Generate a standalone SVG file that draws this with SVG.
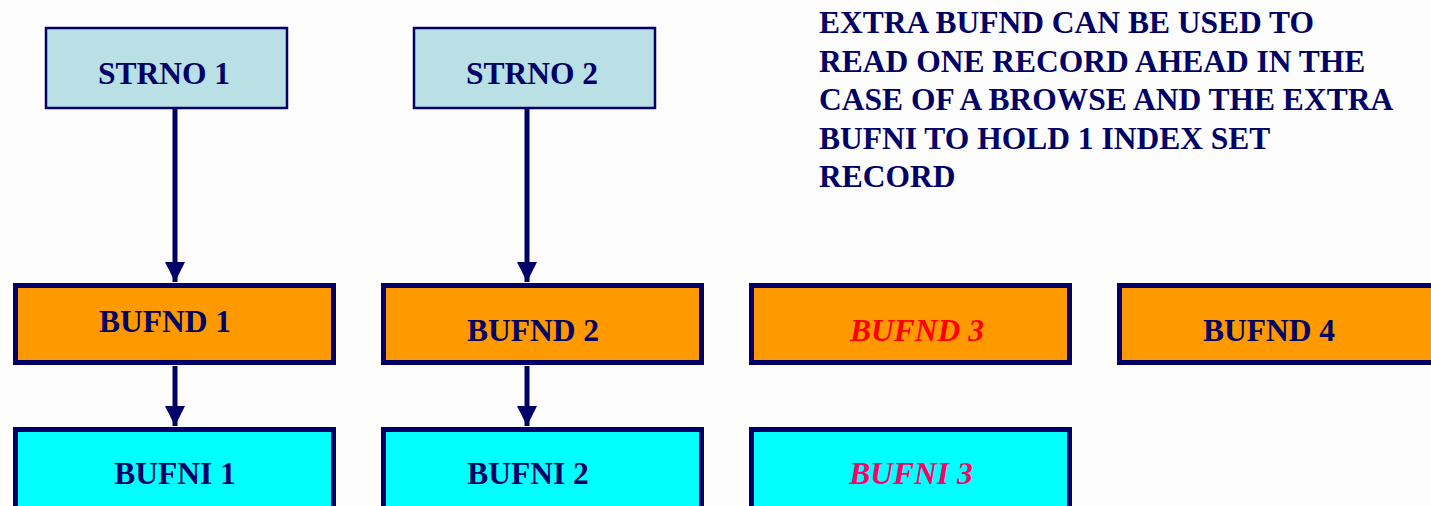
<svg xmlns="http://www.w3.org/2000/svg" width="1431" height="506" viewBox="0 0 1431 506">
<style>
.t{font-family:"Liberation Serif","Times New Roman",serif;font-weight:bold;font-size:31.5px;fill:#000066}
.c{text-anchor:middle}
.it{font-style:italic}
.strno{fill:#B9E0E4;stroke:#000066;stroke-width:2.5}
.nd{fill:#FF9900;stroke:#000066;stroke-width:5}
.ni{fill:#00FFFF;stroke:#000066;stroke-width:5}
.ln{stroke:#000066;stroke-width:5;fill:none}
</style>
<defs>
<marker id="ah" markerUnits="userSpaceOnUse" markerWidth="20" markerHeight="20" refX="20" refY="10" orient="auto" viewBox="0 0 20 20">
<path d="M0,0 L20,10 L0,20 Z" fill="#000066"/>
</marker>
</defs>
<rect width="1431" height="506" fill="#FDFDFD"/>
<g id="connectors">
<line class="ln" x1="175" y1="108" x2="175" y2="282" marker-end="url(#ah)"/>
<line class="ln" x1="527" y1="108" x2="527" y2="282" marker-end="url(#ah)"/>
<line class="ln" x1="175" y1="366" x2="175" y2="426" marker-end="url(#ah)"/>
<line class="ln" x1="527" y1="366" x2="527" y2="426" marker-end="url(#ah)"/>
</g>
<g id="strno1"><rect class="strno" x="46" y="28" width="241" height="80"/><text class="t c" x="164" y="84">STRNO 1</text></g>
<g id="strno2"><rect class="strno" x="414" y="28" width="241" height="80"/><text class="t c" x="532" y="84">STRNO 2</text></g>
<g id="bufnd1"><rect class="nd" x="15.5" y="285.5" width="318" height="77"/><text class="t c" x="165" y="332">BUFND 1</text></g>
<g id="bufnd2"><rect class="nd" x="383.5" y="285.5" width="318" height="77"/><text class="t c" x="533" y="341">BUFND 2</text></g>
<g id="bufnd3"><rect class="nd" x="751.5" y="285.5" width="318" height="77"/><text class="t c it" x="917" y="341" style="fill:#FF0000">BUFND 3</text></g>
<g id="bufnd4"><rect class="nd" x="1119.5" y="285.5" width="318" height="77"/><text class="t c" x="1269" y="341">BUFND 4</text></g>
<g id="bufni1"><rect class="ni" x="15.5" y="429.5" width="318" height="90"/><text class="t c" x="175" y="484">BUFNI 1</text></g>
<g id="bufni2"><rect class="ni" x="383.5" y="429.5" width="318" height="90"/><text class="t c" x="528" y="484">BUFNI 2</text></g>
<g id="bufni3"><rect class="ni" x="751.5" y="429.5" width="318" height="90"/><text class="t c it" x="911" y="484" style="fill:#FF0066">BUFNI 3</text></g>
<g id="note">
<text class="t" x="819" y="33">EXTRA BUFND CAN BE USED TO</text>
<text class="t" x="819" y="72">READ ONE RECORD AHEAD IN THE</text>
<text class="t" x="819" y="110">CASE OF A BROWSE AND THE EXTRA</text>
<text class="t" x="819" y="149">BUFNI TO HOLD 1 INDEX SET</text>
<text class="t" x="819" y="187">RECORD</text>
</g>
</svg>
